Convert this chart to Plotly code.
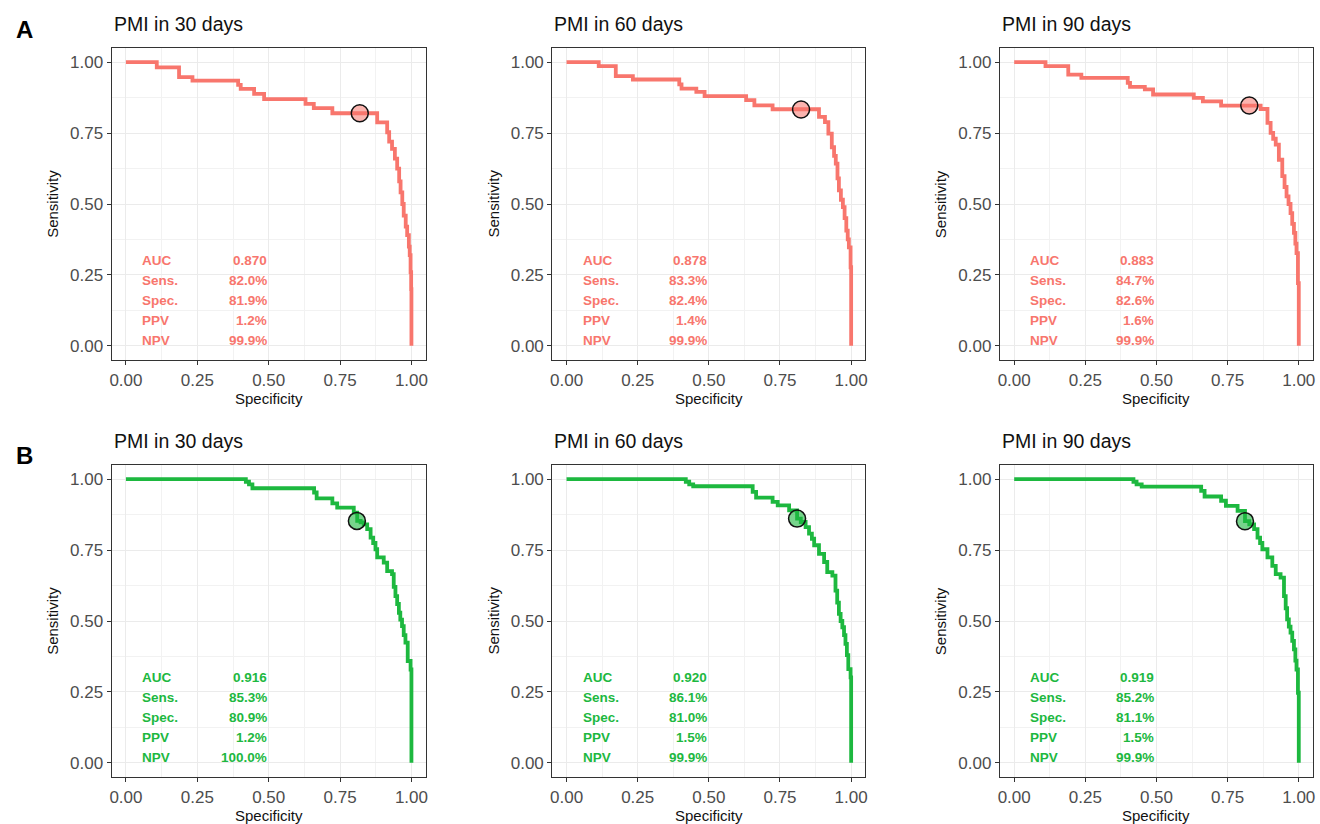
import plotly.graph_objects as go

# ---------------- data ----------------
periods = ["PMI in 30 days", "PMI in 60 days", "PMI in 90 days"]
stat_names = ["AUC", "Sens.", "Spec.", "PPV", "NPV"]
tick_vals = [0.0, 0.25, 0.5, 0.75, 1.0]
tick_text = ["0.00", "0.25", "0.50", "0.75", "1.00"]

# Row A (red)
A30_spec = [0, 0.108, 0.186, 0.233, 0.393, 0.402, 0.449, 0.484, 0.629, 0.658, 0.723, 0.88, 0.915,
            0.922, 0.932, 0.942, 0.950, 0.957, 0.962, 0.968, 0.973, 0.980, 0.985, 0.991, 0.994, 0.997, 0.999, 1.0]
A30_sens = [1, 0.982, 0.947, 0.935, 0.920, 0.906, 0.888, 0.870, 0.853, 0.838, 0.820, 0.788, 0.753,
            0.720, 0.694, 0.660, 0.625, 0.580, 0.541, 0.500, 0.459, 0.420, 0.390, 0.350, 0.320, 0.260, 0.200, 0.0]

A60_spec = [0, 0.113, 0.173, 0.233, 0.396, 0.404, 0.456, 0.485, 0.631, 0.660, 0.724, 0.887, 0.908,
            0.920, 0.932, 0.940, 0.946, 0.952, 0.957, 0.964, 0.971, 0.977, 0.983, 0.988, 0.992, 0.998, 1.0]
A60_sens = [1, 0.986, 0.951, 0.939, 0.922, 0.907, 0.895, 0.880, 0.866, 0.848, 0.834, 0.807, 0.789,
            0.748, 0.700, 0.670, 0.642, 0.590, 0.548, 0.515, 0.489, 0.450, 0.406, 0.375, 0.347, 0.277, 0.0]

A90_spec = [0, 0.110, 0.190, 0.236, 0.399, 0.407, 0.459, 0.488, 0.631, 0.663, 0.727, 0.866, 0.890,
            0.901, 0.910, 0.919, 0.930, 0.942, 0.950, 0.957, 0.964, 0.971, 0.977, 0.983, 0.988, 0.992, 0.997, 1.0]
A90_sens = [1, 0.986, 0.956, 0.945, 0.927, 0.913, 0.904, 0.886, 0.874, 0.862, 0.847, 0.835, 0.786,
            0.751, 0.730, 0.709, 0.656, 0.598, 0.560, 0.527, 0.500, 0.468, 0.430, 0.398, 0.360, 0.327, 0.221, 0.0]

# Row B (green)
B30_spec = [0, 0.420, 0.431, 0.443, 0.659, 0.668, 0.723, 0.740, 0.798, 0.810, 0.822, 0.833, 0.845, 0.857,
            0.866, 0.874, 0.880, 0.903, 0.915, 0.932, 0.938, 0.944, 0.950, 0.956, 0.961, 0.967, 0.973,
            0.979, 0.987, 0.997, 1.0]
B30_sens = [1, 0.991, 0.982, 0.968, 0.953, 0.932, 0.915, 0.900, 0.882, 0.853, 0.848, 0.841, 0.824, 0.794,
            0.775, 0.753, 0.724, 0.706, 0.676, 0.665, 0.620, 0.588, 0.560, 0.529, 0.505, 0.482, 0.450,
            0.424, 0.359, 0.329, 0.0]

B60_spec = [0, 0.419, 0.431, 0.445, 0.654, 0.666, 0.724, 0.742, 0.782, 0.810, 0.823, 0.840, 0.852,
            0.862, 0.870, 0.887, 0.905, 0.916, 0.934, 0.945, 0.951, 0.957, 0.963, 0.969, 0.975, 0.980,
            0.985, 0.990, 0.998, 1.0]
B60_sens = [1, 0.991, 0.982, 0.975, 0.955, 0.935, 0.920, 0.908, 0.890, 0.861, 0.849, 0.831, 0.808,
            0.790, 0.767, 0.737, 0.708, 0.672, 0.660, 0.607, 0.565, 0.525, 0.500, 0.478, 0.450, 0.419,
            0.380, 0.330, 0.301, 0.0]

B90_spec = [0, 0.419, 0.430, 0.448, 0.657, 0.669, 0.727, 0.744, 0.785, 0.811, 0.826, 0.843, 0.855,
            0.864, 0.872, 0.890, 0.907, 0.919, 0.936, 0.948, 0.954, 0.959, 0.965, 0.971, 0.977, 0.983,
            0.988, 0.992, 0.997, 1.0]
B90_sens = [1, 0.991, 0.982, 0.974, 0.959, 0.939, 0.924, 0.906, 0.888, 0.852, 0.841, 0.824, 0.794,
            0.775, 0.753, 0.724, 0.694, 0.665, 0.653, 0.588, 0.545, 0.506, 0.480, 0.459, 0.430, 0.400,
            0.360, 0.329, 0.247, 0.0]

A_stats = [["0.870", "82.0%", "81.9%", "1.2%", "99.9%"],
           ["0.878", "83.3%", "82.4%", "1.4%", "99.9%"],
           ["0.883", "84.7%", "82.6%", "1.6%", "99.9%"]]
B_stats = [["0.916", "85.3%", "80.9%", "1.2%", "100.0%"],
           ["0.920", "86.1%", "81.0%", "1.5%", "99.9%"],
           ["0.919", "85.2%", "81.1%", "1.5%", "99.9%"]]

A_cut_spec = [0.819, 0.824, 0.826]
A_cut_sens = [0.820, 0.833, 0.847]
B_cut_spec = [0.809, 0.810, 0.811]
B_cut_sens = [0.853, 0.861, 0.852]

# ---------------- styling ----------------
W, H = 1320, 824
RED = "#F8766D"
GREEN = "#1DB83F"
RED_FILL = "rgba(248,118,109,0.55)"
GREEN_FILL = "rgba(29,184,63,0.6)"
FONT = "Liberation Sans, Arial, sans-serif"

col_px = [(110, 425), (552, 866), (1001, 1315)]
row_px = [(48, 360), (465, 777)]

rows = [
    dict(curves=[(A30_spec, A30_sens), (A60_spec, A60_sens), (A90_spec, A90_sens)],
         stats=A_stats, cs=A_cut_spec, cy=A_cut_sens, color=RED, fill=RED_FILL),
    dict(curves=[(B30_spec, B30_sens), (B60_spec, B60_sens), (B90_spec, B90_sens)],
         stats=B_stats, cs=B_cut_spec, cy=B_cut_sens, color=GREEN, fill=GREEN_FILL),
]

fig = go.Figure()
annotations = []
layout = {}
stat_y = [0.30, 0.23, 0.16, 0.09, 0.02]

idx = 0
for r, row in enumerate(rows):
    top, bot = row_px[r]
    for c in range(3):
        idx += 1
        left, right = col_px[c]
        xa = "x" if idx == 1 else f"x{idx}"
        ya = "y" if idx == 1 else f"y{idx}"
        xkey = "xaxis" if idx == 1 else f"xaxis{idx}"
        ykey = "yaxis" if idx == 1 else f"yaxis{idx}"
        common = dict(range=[-0.05, 1.05], tickvals=tick_vals, ticktext=tick_text,
                      showgrid=True, gridcolor="#EBEBEB", gridwidth=1,
                      minor=dict(tickvals=[0.125, 0.375, 0.625, 0.875], showgrid=True,
                                 gridcolor="#F2F2F2", gridwidth=0.6, ticks=""),
                      zeroline=False, showline=True, mirror=True, linecolor="#333333",
                      linewidth=1.2, ticks="outside", ticklen=4, tickcolor="#333333",
                      tickfont=dict(family=FONT, size=17, color="#4D4D4D"),
                      fixedrange=True)
        layout[xkey] = dict(common, domain=[left / W, right / W], anchor=ya)
        layout[ykey] = dict(common, domain=[1 - bot / H, 1 - top / H], anchor=xa)

        sx, sy = row["curves"][c]
        fig.add_trace(go.Scatter(x=sx, y=sy, mode="lines", line=dict(color=row["color"], width=3.8, shape="hv"),
                                 xaxis=xa, yaxis=ya, showlegend=False, hoverinfo="skip"))
        fig.add_trace(go.Scatter(x=[row["cs"][c]], y=[row["cy"][c]], mode="markers",
                                 marker=dict(size=17, color=row["fill"], line=dict(color="#111111", width=1.5)),
                                 xaxis=xa, yaxis=ya, showlegend=False, hoverinfo="skip"))
        for k, name in enumerate(stat_names):
            annotations.append(dict(x=0.05, y=stat_y[k], xref=xa, yref=ya, text=f"<b>{name}</b>",
                                    showarrow=False, xanchor="left", yanchor="middle",
                                    font=dict(family=FONT, size=13.5, color=row["color"])))
            annotations.append(dict(x=0.5, y=stat_y[k], xref=xa, yref=ya, text=f"<b>{row['stats'][c][k]}</b>",
                                    showarrow=False, xanchor="right", yanchor="middle",
                                    font=dict(family=FONT, size=13.5, color=row["color"])))
        # panel title
        annotations.append(dict(x=left / W, y=1 - (top - 24) / H, xref="paper", yref="paper",
                                text=periods[c], showarrow=False, xanchor="left", yanchor="middle",
                                font=dict(family=FONT, size=19.5, color="#111111")))
        # axis titles
        annotations.append(dict(x=(left + right) / 2 / W, y=1 - (bot + 38) / H, xref="paper", yref="paper",
                                text="Specificity", showarrow=False, xanchor="center", yanchor="middle",
                                font=dict(family=FONT, size=15, color="#111111")))
        annotations.append(dict(x=(left - 60) / W, y=1 - (top + bot) / 2 / H, xref="paper", yref="paper",
                                text="Sensitivity", showarrow=False, textangle=-90, xanchor="center",
                                yanchor="middle", font=dict(family=FONT, size=15, color="#111111")))

# panel letters
annotations.append(dict(x=12 / W, y=1 - 30 / H, xref="paper", yref="paper", text="<b>A</b>",
                        showarrow=False, xanchor="left", yanchor="middle",
                        font=dict(family=FONT, size=24, color="#000000")))
annotations.append(dict(x=12 / W, y=1 - 455 / H, xref="paper", yref="paper", text="<b>B</b>",
                        showarrow=False, xanchor="left", yanchor="middle",
                        font=dict(family=FONT, size=24, color="#000000")))

fig.update_layout(width=W, height=H, margin=dict(l=0, r=0, t=0, b=0),
                  paper_bgcolor="white", plot_bgcolor="white", annotations=annotations,
                  **layout)

fig.write_html("out.html", config={"displayModeBar": False},
               post_script="document.body.style.margin='0';document.body.style.overflow='hidden';")
